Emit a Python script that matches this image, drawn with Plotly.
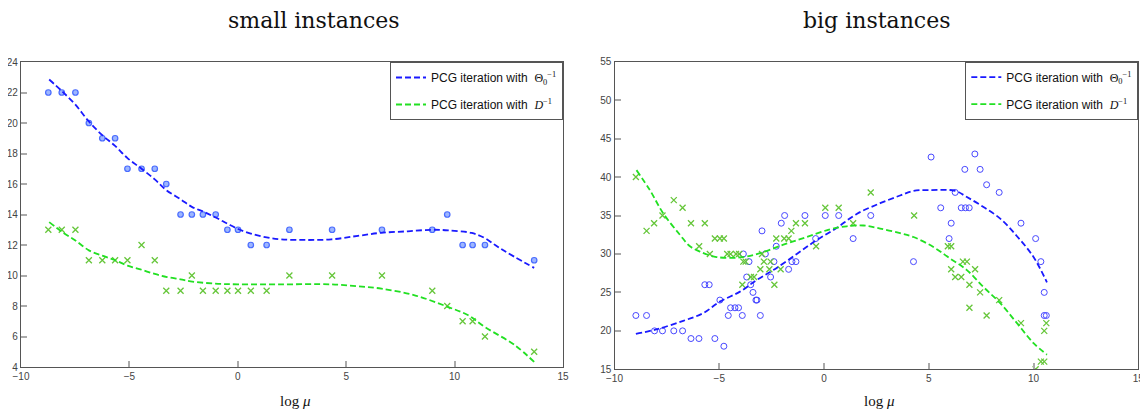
import plotly.graph_objects as go

# page body adds an 8px margin; the figure is sized to fit the remaining window
OFF = 8
W, H = 1140, 405

# ---------------- small instances ----------------
mu_small = [-8.74, -8.12, -7.49, -6.87, -6.25, -5.66, -5.09, -4.44, -3.83, -3.30,
            -2.64, -2.12, -1.61, -1.02, -0.48, 0.01, 0.60, 1.33, 2.38, 4.35,
            6.65, 8.97, 9.66, 10.37, 10.83, 11.40, 13.67]
small_theta = [22, 22, 22, 20, 19, 19, 17, 17, 17, 16,
               14, 14, 14, 14, 13, 13, 12, 12, 13, 13,
               13, 13, 14, 12, 12, 12, 11]
small_diag = [13, 13, 13, 11, 11, 11, 11, 12, 11, 9,
              9, 10, 9, 9, 9, 9, 9, 9, 10, 10,
              10, 9, 8, 7, 7, 6, 5]

fit_small_theta_mu = [-8.70, -8.12, -7.49, -6.87, -6.25, -5.66, -5.09, -4.44, -3.83, -3.30,
                      -2.64, -2.12, -1.61, -1.02, -0.48, 0.01, 0.60, 1.33, 2.00, 3.08,
                      4.31, 5.54, 6.62, 7.85, 8.97, 9.71, 10.79, 11.40, 11.87, 12.25,
                      12.79, 13.67]
fit_small_theta = [22.85, 22.1, 21.2, 20.1, 19.2, 18.5, 17.7, 17.0, 16.3, 15.6,
                   15.0, 14.5, 14.2, 13.8, 13.4, 13.05, 12.75, 12.5, 12.37, 12.33,
                   12.37, 12.6, 12.8, 12.9, 13.0, 12.96, 12.79, 12.45, 12.0, 11.65,
                   11.2, 10.5]
fit_small_diag_mu = [-8.70, -8.04, -7.49, -6.87, -6.25, -5.66, -5.09, -4.49, -3.83, -3.26,
                     -2.64, -2.18, -1.10, 0.01, 2.00, 4.31, 5.50, 6.62, 8.16, 9.71,
                     10.63, 11.40, 12.79, 13.67]
fit_small_diag = [13.5, 12.8, 12.3, 11.65, 11.3, 11.0, 10.65, 10.4, 10.1, 9.9,
                  9.75, 9.62, 9.47, 9.42, 9.42, 9.42, 9.3, 9.14, 8.70, 7.93,
                  7.39, 6.62, 5.42, 4.33]

# ---------------- big instances ----------------
big_theta_mu = [-8.98, -8.47, -8.09, -7.71, -7.17, -6.75, -6.35, -5.97, -5.69, -5.48,
                -5.21, -4.97, -4.78, -4.57, -4.46, -4.25, -4.08, -3.90, -3.85, -3.69,
                -3.58, -3.50, -3.39, -3.25, -3.20, -3.04, -2.96, -2.80, -2.55, -2.39,
                -2.28, -2.04, -1.88, -1.69, -1.53, -1.34, -0.91, -0.40, 0.06, 0.70,
                1.39, 2.23, 4.27, 5.11, 5.57, 5.97, 6.07, 6.26, 6.55, 6.72,
                6.75, 6.93, 7.20, 7.45, 7.76, 8.36, 9.40, 10.10, 10.35, 10.51,
                10.51, 10.61]
big_theta = [22, 22, 20, 20, 20, 20, 19, 19, 26, 26,
             19, 24, 18, 22, 23, 23, 23, 22, 30, 27,
             29, 26, 25, 24, 24, 22, 33, 30, 27, 29,
             31, 34, 35, 28, 29, 29, 35, 32, 35, 35,
             32, 35, 29, 42.6, 36, 32, 34, 38, 36, 41,
             36, 36, 43, 41, 39, 38, 34, 32, 29, 25,
             22, 22]
big_diag_mu = [-8.98, -8.47, -8.11, -7.71, -7.17, -6.75, -6.35, -5.96, -5.69, -5.45,
               -5.21, -4.97, -4.78, -4.62, -4.46, -4.20, -4.05, -3.90, -3.85, -3.74,
               -3.49, -3.34, -3.04, -2.96, -2.87, -2.61, -2.55, -2.37, -2.28, -2.07,
               -1.90, -1.69, -1.56, -1.34, -0.91, -0.38, 0.06, 0.70, 1.39, 2.23,
               4.30, 5.91, 6.07, 6.63, 6.82, 6.07, 7.21, 6.26, 6.55, 6.94,
               7.45, 8.36, 6.94, 7.76, 9.40, 10.61, 10.51, 10.35, 10.51, 10.10]
big_diag = [40, 33, 34, 35, 37, 36, 34, 31, 34, 30,
            32, 32, 32, 30, 30, 30, 30, 26, 29, 29,
            27, 27, 28, 30, 29, 28, 29, 26, 32, 28,
            32, 32, 33, 34, 34, 31, 36, 36, 34, 38,
            35, 31, 31, 29, 29, 28, 28, 27, 27, 26,
            25, 24, 23, 22, 21, 21, 20, 16, 16, 15]

fit_big_theta_mu = [-8.98, -7.99, -6.72, -5.77, -4.97, -4.01, -3.22, -2.42, -1.30, -0.35,
                    0.61, 1.56, 2.68, 3.63, 4.27, 5.00, 6.26, 6.82, 7.61, 8.41,
                    9.21, 10.00, 10.64]
fit_big_theta = [19.6, 20.2, 21.3, 22.3, 23.8, 25.1, 26.6, 27.9, 30.0, 31.8,
                 33.4, 35.2, 36.6, 37.6, 38.2, 38.3, 38.2, 37.4, 36.1, 34.6,
                 32.3, 29.6, 26.3]
fit_big_diag_mu = [-8.95, -8.31, -7.68, -6.88, -6.40, -5.92, -5.13, -4.01, -3.06, -1.94,
                   -0.83, 0.29, 1.08, 1.88, 2.68, 3.63, 4.27, 5.22, 6.02, 6.82,
                   7.61, 8.41, 9.21, 10.00, 10.64]
fit_big_diag = [40.9, 38.3, 35.3, 32.5, 31.0, 30.3, 29.6, 29.55, 30.1, 31.2,
                32.2, 33.2, 33.6, 33.7, 33.3, 32.7, 32.2, 30.9, 29.4, 27.9,
                25.7, 23.6, 21.0, 18.4, 16.9]

x_ticks = [-10, -5, 0, 5, 10, 15]
small_y_ticks = [4, 6, 8, 10, 12, 14, 16, 18, 20, 22, 24]
big_y_ticks = [15, 20, 25, 30, 35, 40, 45, 50, 55]

titles = ["small instances", "big instances"]
legend_theta = ("PCG iteration with  <span style='font-family:Liberation Serif'>"
                "\u0398<sub>0</sub><sup>\u22121</sup></span>")
legend_diag = ("PCG iteration with  <span style='font-family:Liberation Serif'>"
               "<i>D</i><sup>\u22121</sup></span>")

BLUE_LINE = "#1a1aff"
GREEN_LINE = "#22e022"
BLUE_MK = "#4a6cff"
GREEN_MK = "#66c63a"


def px_x(p):
    return (p - OFF) / W


def px_y(p):
    return 1 - (p - OFF) / H


fig = go.Figure()

fig.add_trace(go.Scatter(x=mu_small, y=small_theta, mode="markers", showlegend=False,
                         marker=dict(symbol="circle", size=5.5, color="#9db6ff",
                                     line=dict(color=BLUE_MK, width=1.2)),
                         xaxis="x", yaxis="y"))
fig.add_trace(go.Scatter(x=mu_small, y=small_diag, mode="markers", showlegend=False,
                         marker=dict(symbol="x-thin-open", size=6, color=GREEN_MK,
                                     line=dict(color=GREEN_MK, width=1.3)),
                         xaxis="x", yaxis="y"))
fig.add_trace(go.Scatter(x=fit_small_theta_mu, y=fit_small_theta, mode="lines",
                         name=legend_theta, legend="legend", legendgroup="s_theta",
                         line=dict(color=BLUE_LINE, width=1.8, dash="6px,3px", shape="spline"),
                         xaxis="x", yaxis="y"))
fig.add_trace(go.Scatter(x=fit_small_diag_mu, y=fit_small_diag, mode="lines",
                         name=legend_diag, legend="legend", legendgroup="s_diag",
                         line=dict(color=GREEN_LINE, width=1.8, dash="6px,3px", shape="spline"),
                         xaxis="x", yaxis="y"))

fig.add_trace(go.Scatter(x=big_theta_mu, y=big_theta, mode="markers", showlegend=False,
                         marker=dict(symbol="circle-open", size=6, color="#4848ff",
                                     line=dict(color="#4848ff", width=1)),
                         xaxis="x2", yaxis="y2"))
fig.add_trace(go.Scatter(x=big_diag_mu, y=big_diag, mode="markers", showlegend=False,
                         marker=dict(symbol="x-thin-open", size=6, color=GREEN_MK,
                                     line=dict(color=GREEN_MK, width=1.3)),
                         xaxis="x2", yaxis="y2"))
fig.add_trace(go.Scatter(x=fit_big_theta_mu, y=fit_big_theta, mode="lines",
                         name=legend_theta, legend="legend2", legendgroup="b_theta",
                         line=dict(color=BLUE_LINE, width=1.8, dash="6px,3px", shape="spline"),
                         xaxis="x2", yaxis="y2"))
fig.add_trace(go.Scatter(x=fit_big_diag_mu, y=fit_big_diag, mode="lines",
                         name=legend_diag, legend="legend2", legendgroup="b_diag",
                         line=dict(color=GREEN_LINE, width=1.8, dash="6px,3px", shape="spline"),
                         xaxis="x2", yaxis="y2"))

tick_font = dict(family="Liberation Sans Narrow, Liberation Sans, Arial", size=10, color="#444")
axis_common = dict(showgrid=False, zeroline=False, showline=True, mirror=True,
                   linecolor="#555", linewidth=1.2, ticks="inside", ticklen=6,
                   tickwidth=2, tickcolor="#aaa", tickfont=tick_font, automargin=False)

left_dom_x = [px_x(21), px_x(563)]
left_dom_y = [px_y(367), px_y(62)]
right_dom_x = [px_x(614.5), px_x(1138.3)]
right_dom_y = [px_y(369.3), px_y(61.7)]

legend_common = dict(xanchor="right", yanchor="top", bgcolor="white",
                     bordercolor="#555", borderwidth=1,
                     font=dict(family="Liberation Sans Narrow, Liberation Sans, Arial", size=12, color="#111"),
                     tracegroupgap=8, itemwidth=30)

ann_common = dict(xref="paper", yref="paper", showarrow=False, xanchor="center", yanchor="middle")

fig.update_layout(
    template="none",
    width=W, height=H,
    margin=dict(l=0, r=0, t=0, b=0, autoexpand=False),
    paper_bgcolor="white", plot_bgcolor="white",
    xaxis=dict(domain=left_dom_x, range=[-10, 15], tickvals=x_ticks, anchor="y", **axis_common),
    yaxis=dict(domain=left_dom_y, range=[4, 24], tickvals=small_y_ticks, anchor="x", **axis_common),
    xaxis2=dict(domain=right_dom_x, range=[-10, 15], tickvals=x_ticks, anchor="y2", **axis_common),
    yaxis2=dict(domain=right_dom_y, range=[15, 55], tickvals=big_y_ticks, anchor="x2", **axis_common),
    legend=dict(x=left_dom_x[1], y=left_dom_y[1], **legend_common),
    legend2=dict(x=right_dom_x[1], y=right_dom_y[1], **legend_common),
    annotations=[
        dict(text=titles[0], x=px_x(314), y=px_y(20),
             font=dict(family="DejaVu Serif", size=22, color="#111"), **ann_common),
        dict(text=titles[1], x=px_x(876), y=px_y(20),
             font=dict(family="DejaVu Serif", size=22, color="#111"), **ann_common),
        dict(text="log <i>\u03bc</i>", x=px_x(295), y=px_y(401),
             font=dict(family="Liberation Serif", size=15, color="#111"), **ann_common),
        dict(text="log <i>\u03bc</i>", x=px_x(879), y=px_y(401),
             font=dict(family="Liberation Serif", size=15, color="#111"), **ann_common),
    ],
)

fig.write_html("out.html")
